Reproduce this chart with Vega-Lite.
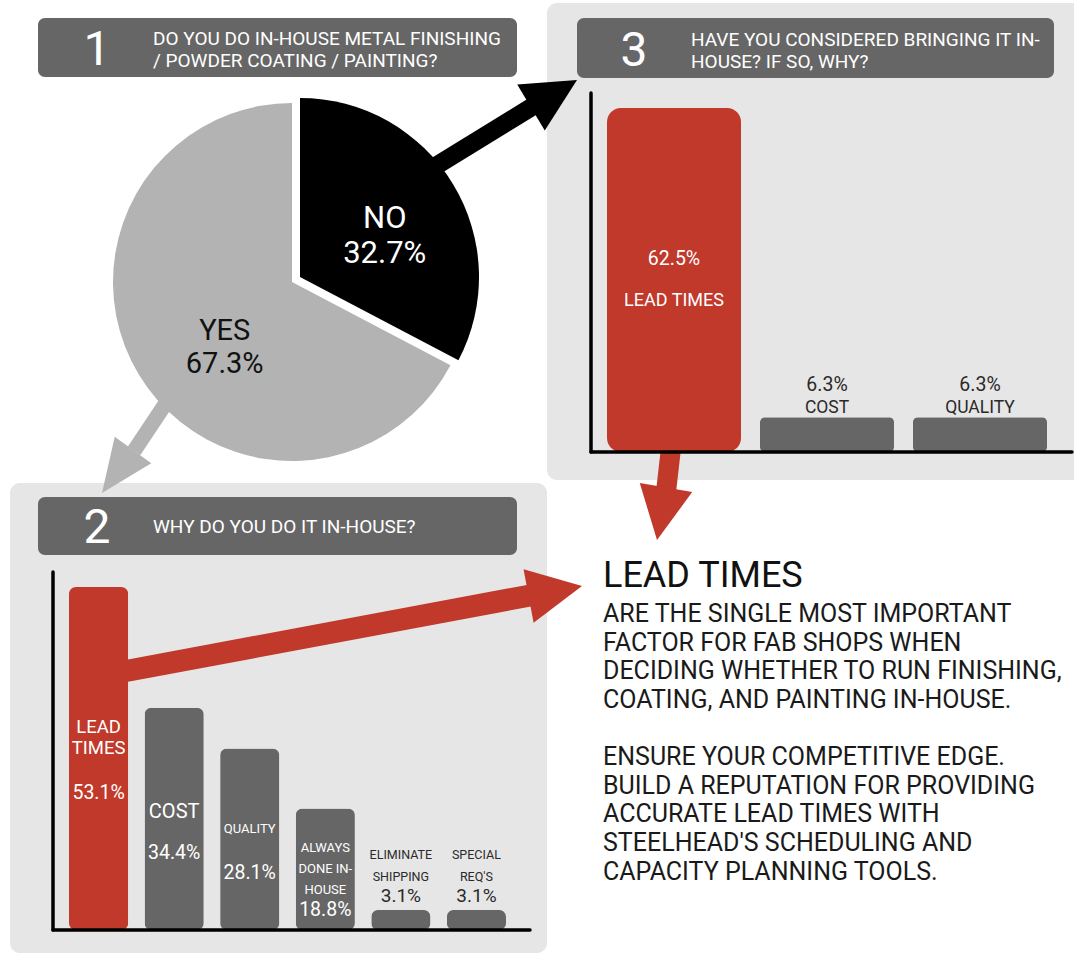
{
  "$schema": "https://vega.github.io/schema/vega-lite/v6.json",
  "width": 1074,
  "height": 957,
  "padding": 0,
  "autosize": {"type": "none"},
  "background": "#ffffff",
  "config": {"view": {"stroke": null}, "font": "Roboto"},
  "datasets": {
    "q1": [
      {"answer": "NO", "share": 32.7},
      {"answer": "YES", "share": 67.3}
    ],
    "q2": [
      {"reason": "LEAD TIMES", "label": "LEAD\nTIMES", "share": 53.1},
      {"reason": "COST", "label": "COST", "share": 34.4},
      {"reason": "QUALITY", "label": "QUALITY", "share": 28.1},
      {"reason": "ALWAYS DONE IN-HOUSE", "label": "ALWAYS\nDONE IN-\nHOUSE", "share": 18.8},
      {"reason": "ELIMINATE SHIPPING", "label": "ELIMINATE\nSHIPPING", "share": 3.1},
      {"reason": "SPECIAL REQ'S", "label": "SPECIAL\nREQ'S", "share": 3.1}
    ],
    "q3": [
      {"reason": "LEAD TIMES", "share": 62.5},
      {"reason": "COST", "share": 6.3},
      {"reason": "QUALITY", "share": 6.3}
    ]
  },
  "layer": [
    {"data": {"values": [{}]}, "mark": {"type": "rect", "cornerRadius": 10, "color": "#e6e6e6"},
     "encoding": {"x": {"value": 547}, "x2": {"value": 1090}, "y": {"value": 3}, "y2": {"value": 480}}},
    {"data": {"values": [{}]}, "mark": {"type": "rect", "cornerRadius": 10, "color": "#e6e6e6"},
     "encoding": {"x": {"value": 10}, "x2": {"value": 547}, "y": {"value": 483}, "y2": {"value": 953}}},

    {"data": {"values": [{}]}, "mark": {"type": "rule", "strokeWidth": 18, "color": "#000000"},
     "encoding": {"x": {"value": 400}, "y": {"value": 188}, "x2": {"value": 535}, "y2": {"value": 105}}},
    {"data": {"values": [{}]}, "mark": {"type": "point", "shape": "M0,-1L-1,1L1,1Z", "filled": true, "opacity": 1, "color": "#000000", "size": 2873, "angle": 59.1, "strokeWidth": 0},
     "encoding": {"x": {"value": 554}, "y": {"value": 93.8}}},
    {"data": {"values": [{}]}, "mark": {"type": "rule", "strokeWidth": 15, "color": "#b3b3b3"},
     "encoding": {"x": {"value": 178}, "y": {"value": 385}, "x2": {"value": 134}, "y2": {"value": 451}}},
    {"data": {"values": [{}]}, "mark": {"type": "point", "shape": "M0,-1L-0.85,1L0.85,1Z", "filled": true, "opacity": 1, "color": "#b3b3b3", "size": 2809, "angle": 215.8, "strokeWidth": 0},
     "encoding": {"x": {"value": 117.5}, "y": {"value": 471.5}}},
    {"data": {"values": [{}]}, "mark": {"type": "rule", "strokeWidth": 20, "color": "#c0392b"},
     "encoding": {"x": {"value": 671}, "y": {"value": 448}, "x2": {"value": 666}, "y2": {"value": 492}}},
    {"data": {"values": [{}]}, "mark": {"type": "point", "shape": "M0,-1L-1,1L1,1Z", "filled": true, "opacity": 1, "color": "#c0392b", "size": 2830, "angle": 189.7, "strokeWidth": 0},
     "encoding": {"x": {"value": 661.5}, "y": {"value": 513.8}}},
    {"data": {"values": [{}]}, "mark": {"type": "rule", "strokeWidth": 22, "color": "#c0392b"},
     "encoding": {"x": {"value": 110}, "y": {"value": 674}, "x2": {"value": 533}, "y2": {"value": 595}}},
    {"data": {"values": [{}]}, "mark": {"type": "point", "shape": "M0,-1L-1,1L1,1Z", "filled": true, "opacity": 1, "color": "#c0392b", "size": 2959, "angle": 79.4, "strokeWidth": 0},
     "encoding": {"x": {"value": 555.3}, "y": {"value": 591}}},

    {"data": {"values": [{}]}, "mark": {"type": "rect", "cornerRadius": 7, "color": "#666666"},
     "encoding": {"x": {"value": 38}, "x2": {"value": 517}, "y": {"value": 18}, "y2": {"value": 77}}},
    {"data": {"values": [{}]}, "mark": {"type": "rect", "cornerRadius": 7, "color": "#666666"},
     "encoding": {"x": {"value": 577}, "x2": {"value": 1054}, "y": {"value": 18}, "y2": {"value": 78}}},
    {"data": {"values": [{}]}, "mark": {"type": "rect", "cornerRadius": 7, "color": "#666666"},
     "encoding": {"x": {"value": 38}, "x2": {"value": 517}, "y": {"value": 497}, "y2": {"value": 555}}},
    {"data": {"values": [{}]}, "mark": {"type": "text", "text": "1", "fontSize": 48, "align": "center", "baseline": "alphabetic", "color": "#ffffff"},
     "encoding": {"x": {"value": 97}, "y": {"value": 65}}},
    {"data": {"values": [{}]}, "mark": {"type": "text", "text": "3", "fontSize": 48, "align": "center", "baseline": "alphabetic", "color": "#ffffff"},
     "encoding": {"x": {"value": 634}, "y": {"value": 66}}},
    {"data": {"values": [{}]}, "mark": {"type": "text", "text": "2", "fontSize": 48, "align": "center", "baseline": "alphabetic", "color": "#ffffff"},
     "encoding": {"x": {"value": 97}, "y": {"value": 543}}},
    {"data": {"values": [{}]}, "mark": {"type": "text", "text": ["DO YOU DO IN-HOUSE METAL FINISHING", "/ POWDER COATING / PAINTING?"], "fontSize": 19, "lineHeight": 22, "align": "left", "baseline": "alphabetic", "color": "#ffffff"},
     "encoding": {"x": {"value": 153}, "y": {"value": 45}}},
    {"data": {"values": [{}]}, "mark": {"type": "text", "text": ["HAVE YOU CONSIDERED BRINGING IT IN-", "HOUSE? IF SO, WHY?"], "fontSize": 19, "lineHeight": 22, "align": "left", "baseline": "alphabetic", "color": "#ffffff"},
     "encoding": {"x": {"value": 691}, "y": {"value": 46}}},
    {"data": {"values": [{}]}, "mark": {"type": "text", "text": "WHY DO YOU DO IT IN-HOUSE?", "fontSize": 19, "align": "left", "baseline": "alphabetic", "color": "#ffffff"},
     "encoding": {"x": {"value": 153}, "y": {"value": 533}}},

    {
      "data": {"name": "q1"},
      "transform": [{"calculate": "[datum.answer, format(datum.share, '.1f') + '%']", "as": "lbl"}],
      "layer": [
        {"mark": {"type": "arc", "outerRadius": 179},
         "encoding": {
           "x": {"value": 292}, "y": {"value": 282},
           "theta": {"field": "share", "type": "quantitative", "stack": true},
           "color": {"field": "answer", "type": "nominal", "scale": {"domain": ["NO", "YES"], "range": ["#000000", "#b3b3b3"]}, "legend": null},
           "opacity": {"condition": {"test": "datum.answer === 'YES'", "value": 1}, "value": 0}
         }},
        {"mark": {"type": "arc", "outerRadius": 179},
         "encoding": {
           "x": {"value": 300}, "y": {"value": 277},
           "theta": {"field": "share", "type": "quantitative", "stack": true},
           "color": {"field": "answer", "type": "nominal", "scale": {"domain": ["NO", "YES"], "range": ["#000000", "#b3b3b3"]}, "legend": null},
           "opacity": {"condition": {"test": "datum.answer === 'NO'", "value": 1}, "value": 0}
         }},
        {"mark": {"type": "text", "radius": 95, "fontSize": 29, "lineHeight": 33, "align": "center", "baseline": "alphabetic", "color": "#111111", "dx": 14, "dy": 9},
         "encoding": {
           "x": {"value": 292}, "y": {"value": 282},
           "theta": {"field": "share", "type": "quantitative", "stack": true},
           "detail": {"field": "answer", "type": "nominal"},
           "text": {"field": "lbl"},
           "opacity": {"condition": {"test": "datum.answer === 'YES'", "value": 1}, "value": 0}
         }},
        {"mark": {"type": "text", "radius": 92, "fontSize": 31, "lineHeight": 35, "align": "center", "baseline": "alphabetic", "color": "#ffffff", "dx": 6, "dy": -1.5},
         "encoding": {
           "x": {"value": 300}, "y": {"value": 277},
           "theta": {"field": "share", "type": "quantitative", "stack": true},
           "detail": {"field": "answer", "type": "nominal"},
           "text": {"field": "lbl"},
           "opacity": {"condition": {"test": "datum.answer === 'NO'", "value": 1}, "value": 0}
         }}
      ]
    },

    {
      "data": {"name": "q3"},
      "transform": [
        {"calculate": "datum.share / 2", "as": "mid"},
        {"calculate": "format(datum.share, '.1f') + '%'", "as": "pct"}
      ],
      "layer": [
        {"transform": [{"filter": "datum.reason === 'LEAD TIMES'"}],
         "mark": {"type": "bar", "cornerRadius": 14, "color": "#c0392b"},
         "encoding": {
           "x": {"field": "reason", "type": "nominal", "axis": null, "scale": {"domain": ["LEAD TIMES", "COST", "QUALITY"], "range": [607, 1047], "paddingInner": 0.124, "paddingOuter": 0}},
           "y": {"field": "share", "type": "quantitative", "axis": null, "scale": {"zero": true, "nice": false, "range": [452, 108]}}
         }},
        {"transform": [{"filter": "datum.reason !== 'LEAD TIMES'"}],
         "mark": {"type": "bar", "cornerRadius": 5, "color": "#666666"},
         "encoding": {
           "x": {"field": "reason", "type": "nominal", "axis": null},
           "y": {"field": "share", "type": "quantitative", "axis": null}
         }},
        {"transform": [{"filter": "datum.reason === 'LEAD TIMES'"}],
         "mark": {"type": "text", "fontSize": 19.5, "align": "center", "baseline": "alphabetic", "color": "#ffffff", "dy": -15},
         "encoding": {
           "x": {"field": "reason", "type": "nominal", "axis": null},
           "y": {"field": "mid", "type": "quantitative", "axis": null},
           "text": {"field": "pct"}
         }},
        {"transform": [{"filter": "datum.reason === 'LEAD TIMES'"}],
         "mark": {"type": "text", "fontSize": 18, "align": "center", "baseline": "alphabetic", "color": "#ffffff", "dy": 26},
         "encoding": {
           "x": {"field": "reason", "type": "nominal", "axis": null},
           "y": {"field": "mid", "type": "quantitative", "axis": null},
           "text": {"field": "reason"}
         }},
        {"transform": [{"filter": "datum.reason !== 'LEAD TIMES'"}],
         "mark": {"type": "text", "fontSize": 19.5, "align": "center", "baseline": "alphabetic", "color": "#2a2a2a", "dy": -26},
         "encoding": {
           "x": {"field": "reason", "type": "nominal", "axis": null},
           "y": {"field": "share", "type": "quantitative", "axis": null},
           "text": {"field": "pct"}
         }},
        {"transform": [{"filter": "datum.reason !== 'LEAD TIMES'"}],
         "mark": {"type": "text", "fontSize": 17.5, "align": "center", "baseline": "alphabetic", "color": "#2a2a2a", "dy": -4},
         "encoding": {
           "x": {"field": "reason", "type": "nominal", "axis": null},
           "y": {"field": "share", "type": "quantitative", "axis": null},
           "text": {"field": "reason"}
         }},
        {"data": {"values": [{}]},
         "mark": {"type": "rule", "strokeWidth": 3.5, "color": "#000000", "strokeCap": "round"},
         "encoding": {"x": {"value": 591}, "y": {"value": 93}, "y2": {"value": 452}}},
        {"data": {"values": [{}]},
         "mark": {"type": "rule", "strokeWidth": 3.5, "color": "#000000", "strokeCap": "round"},
         "encoding": {"x": {"value": 591}, "x2": {"value": 1072}, "y": {"datum": 0, "type": "quantitative"}}}
      ]
    },

    {
      "data": {"name": "q2"},
      "transform": [
        {"calculate": "datum.share / 2", "as": "mid"},
        {"calculate": "format(datum.share, '.1f') + '%'", "as": "pct"}
      ],
      "layer": [
        {"mark": {"type": "bar", "cornerRadius": 7},
         "encoding": {
           "x": {"field": "reason", "type": "nominal", "axis": null, "scale": {"domain": ["LEAD TIMES", "COST", "QUALITY", "ALWAYS DONE IN-HOUSE", "ELIMINATE SHIPPING", "SPECIAL REQ'S"], "range": [69, 506], "paddingInner": 0.217, "paddingOuter": 0}},
           "y": {"field": "share", "type": "quantitative", "axis": null, "scale": {"zero": true, "nice": false, "range": [930, 587]}},
           "color": {"condition": {"test": "datum.reason === 'LEAD TIMES'", "value": "#c0392b"}, "value": "#666666"}
         }},
        {"transform": [{"filter": {"field": "reason", "oneOf": ["LEAD TIMES"]}}],
         "mark": {"type": "text", "fontSize": 18.5, "lineHeight": 21, "lineBreak": "\n", "align": "center", "baseline": "alphabetic", "color": "#ffffff", "dy": -26},
         "encoding": {
           "x": {"field": "reason", "type": "nominal", "axis": null},
           "y": {"field": "mid", "type": "quantitative", "axis": null},
           "text": {"field": "label"}
         }},
        {"transform": [{"filter": {"field": "reason", "oneOf": ["COST"]}}],
         "mark": {"type": "text", "fontSize": 20, "align": "center", "baseline": "alphabetic", "color": "#ffffff", "dy": -1},
         "encoding": {
           "x": {"field": "reason", "type": "nominal", "axis": null},
           "y": {"field": "mid", "type": "quantitative", "axis": null},
           "text": {"field": "label"}
         }},
        {"transform": [{"filter": {"field": "reason", "oneOf": ["QUALITY"]}}],
         "mark": {"type": "text", "fontSize": 13, "align": "center", "baseline": "alphabetic", "color": "#ffffff", "dy": -6},
         "encoding": {
           "x": {"field": "reason", "type": "nominal", "axis": null},
           "y": {"field": "mid", "type": "quantitative", "axis": null},
           "text": {"field": "label"}
         }},
        {"transform": [{"filter": {"field": "reason", "oneOf": ["ALWAYS DONE IN-HOUSE"]}}],
         "mark": {"type": "text", "fontSize": 13, "lineHeight": 21, "lineBreak": "\n", "align": "center", "baseline": "alphabetic", "color": "#ffffff", "dy": -17},
         "encoding": {
           "x": {"field": "reason", "type": "nominal", "axis": null},
           "y": {"field": "mid", "type": "quantitative", "axis": null},
           "text": {"field": "label"}
         }},
        {"transform": [{"filter": {"field": "reason", "oneOf": ["LEAD TIMES", "COST", "QUALITY"]}}],
         "mark": {"type": "text", "fontSize": 19.5, "align": "center", "baseline": "alphabetic", "color": "#ffffff", "dy": 40},
         "encoding": {
           "x": {"field": "reason", "type": "nominal", "axis": null},
           "y": {"field": "mid", "type": "quantitative", "axis": null},
           "text": {"field": "pct"}
         }},
        {"transform": [{"filter": {"field": "reason", "oneOf": ["ALWAYS DONE IN-HOUSE"]}}],
         "mark": {"type": "text", "fontSize": 19.5, "align": "center", "baseline": "alphabetic", "color": "#ffffff", "dy": 47},
         "encoding": {
           "x": {"field": "reason", "type": "nominal", "axis": null},
           "y": {"field": "mid", "type": "quantitative", "axis": null},
           "text": {"field": "pct"}
         }},
        {"transform": [{"filter": {"field": "reason", "oneOf": ["ELIMINATE SHIPPING", "SPECIAL REQ'S"]}}],
         "mark": {"type": "text", "fontSize": 12.5, "lineHeight": 22, "lineBreak": "\n", "align": "center", "baseline": "alphabetic", "color": "#2a2a2a", "dy": -51},
         "encoding": {
           "x": {"field": "reason", "type": "nominal", "axis": null},
           "y": {"field": "share", "type": "quantitative", "axis": null},
           "text": {"field": "label"}
         }},
        {"transform": [{"filter": {"field": "reason", "oneOf": ["ELIMINATE SHIPPING", "SPECIAL REQ'S"]}}],
         "mark": {"type": "text", "fontSize": 19, "align": "center", "baseline": "alphabetic", "color": "#2a2a2a", "dy": -8},
         "encoding": {
           "x": {"field": "reason", "type": "nominal", "axis": null},
           "y": {"field": "share", "type": "quantitative", "axis": null},
           "text": {"field": "pct"}
         }},
        {"data": {"values": [{}]},
         "mark": {"type": "rule", "strokeWidth": 3.5, "color": "#000000", "strokeCap": "round"},
         "encoding": {"x": {"value": 53}, "y": {"value": 572}, "y2": {"value": 930}}},
        {"data": {"values": [{}]},
         "mark": {"type": "rule", "strokeWidth": 3.5, "color": "#000000", "strokeCap": "round"},
         "encoding": {"x": {"value": 53}, "x2": {"value": 530}, "y": {"datum": 0, "type": "quantitative"}}}
      ]
    },

    {"data": {"values": [{}]}, "mark": {"type": "text", "text": "LEAD TIMES", "fontSize": 36, "align": "left", "baseline": "alphabetic", "color": "#111111"},
     "encoding": {"x": {"value": 603}, "y": {"value": 587}}},
    {"data": {"values": [{}]}, "mark": {"type": "text", "text": [
        "ARE THE SINGLE MOST IMPORTANT",
        "FACTOR FOR FAB SHOPS WHEN",
        "DECIDING WHETHER TO RUN FINISHING,",
        "COATING, AND PAINTING IN-HOUSE."
      ], "fontSize": 25, "lineHeight": 28.7, "align": "left", "baseline": "alphabetic", "color": "#1a1a1a"},
     "encoding": {"x": {"value": 603}, "y": {"value": 622}}},
    {"data": {"values": [{}]}, "mark": {"type": "text", "text": [
        "ENSURE YOUR COMPETITIVE EDGE.",
        "BUILD A REPUTATION FOR PROVIDING",
        "ACCURATE LEAD TIMES WITH",
        "STEELHEAD'S SCHEDULING AND",
        "CAPACITY PLANNING TOOLS."
      ], "fontSize": 25, "lineHeight": 28.7, "align": "left", "baseline": "alphabetic", "color": "#1a1a1a"},
     "encoding": {"x": {"value": 603}, "y": {"value": 765}}}
  ],
  "resolve": {"scale": {"x": "independent", "y": "independent", "theta": "independent", "color": "independent"}}
}
